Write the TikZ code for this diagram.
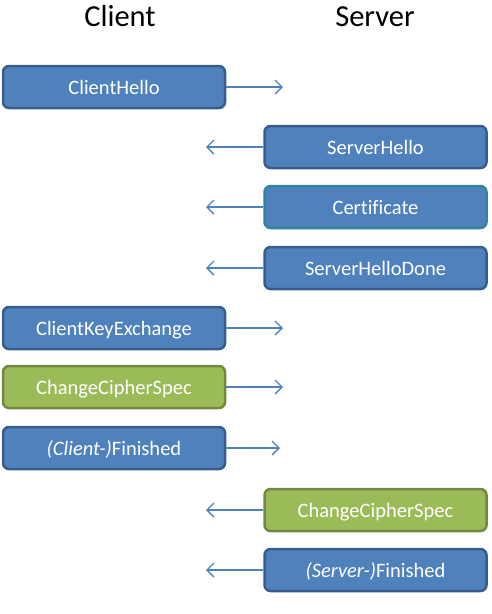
\documentclass[tikz,border=0pt]{standalone}
\usepackage{fontspec}
\setmainfont{Carlito}[Ligatures={NoCommon}]
\usetikzlibrary{arrows.meta}
\definecolor{boxblue}{HTML}{4F81BD}
\definecolor{edgeblue}{HTML}{385D8A}
\definecolor{edgeteal}{HTML}{31849B}
\definecolor{boxgreen}{HTML}{9BBB59}
\definecolor{edgegreen}{HTML}{71893F}
\tikzset{
  msg/.style={draw=edgeblue, fill=boxblue, line width=2.5pt, rounded corners=6pt,
    minimum width=222pt, minimum height=42pt, inner sep=0pt, text=white,
    text height=14pt, text depth=0pt,
    font=\fontsize{20.5}{22}\selectfont},
  msggreen/.style={msg, draw=edgegreen, fill=boxgreen},
  msgteal/.style={msg, draw=edgeteal},
  flow/.style={draw=boxblue, line width=1.4pt, -{Straight Barb[length=7pt,width=14pt,line width=1.4pt]}},
  title/.style={font=\fontsize{30.5}{32}\selectfont, text=black}
}
\begin{document}
\begin{tikzpicture}[x=1pt,y=-1pt]
\useasboundingbox (0,0) rectangle (491,614);
\node[title] (client) at (120,16) {Client};
\node[title] (server) at (375,17) {Server};

\node[msg] (ch) at (114,87) {ClientHello};
\coordinate (chend) at (283,87);
\draw[flow] (ch.east) -- (chend);

\node[msg] (sh) at (375.5,147) {ServerHello};
\coordinate (shend) at (206,147);
\draw[flow] (sh.west) -- (shend);

\node[msgteal] (cert) at (375.5,207) {Certificate};
\coordinate (certend) at (206,207);
\draw[flow] (cert.west) -- (certend);

\node[msg] (shd) at (375.5,268) {ServerHelloDone};
\coordinate (shdend) at (206,268);
\draw[flow] (shd.west) -- (shdend);

\node[msg] (cke) at (114,328) {ClientKeyExchange};
\coordinate (ckeend) at (283,328);
\draw[flow] (cke.east) -- (ckeend);

\node[msggreen] (ccs) at (114,387) {ChangeCipherSpec};
\coordinate (ccsend) at (283,387);
\draw[flow] (ccs.east) -- (ccsend);

\node[msg] (cf) at (114,448) {\textit{(Client-)}Finished};
\coordinate (cfend) at (280,448);
\draw[flow] (cf.east) -- (cfend);

\node[msggreen] (sccs) at (375.5,510) {ChangeCipherSpec};
\coordinate (sccsend) at (206,510);
\draw[flow] (sccs.west) -- (sccsend);

\node[msg] (sf) at (375.5,570) {\textit{(Server-)}Finished};
\coordinate (sfend) at (206,570);
\draw[flow] (sf.west) -- (sfend);
\end{tikzpicture}
\end{document}
